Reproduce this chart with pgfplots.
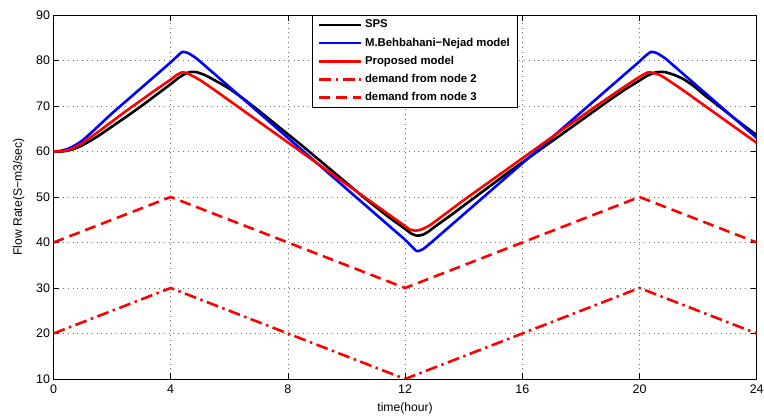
\documentclass[border=0pt]{standalone}
\usepackage{fontspec}
\setmainfont{Liberation Sans}
\usepackage{pgfplots}
\pgfplotsset{compat=1.18}
\begin{document}
\begin{tikzpicture}
\begin{axis}[name=ax, scale only axis, width=703.2bp, height=364bp,
  xmin=0, xmax=24, ymin=10, ymax=90,
  xtick={0,4,...,24}, ytick={10,20,...,90},
  grid=major,
  major grid style={black!55, line width=0.7bp, dash pattern=on 1bp off 3.8bp},
  tick align=inside, tick pos=both, major tick length=6bp,
  every tick/.style={black, line width=0.8bp},
  axis line style={black, line width=0.9bp},
  /pgf/number format/assume math mode=true,
  tick label style={font=\fontsize{12.5}{14}\selectfont},
  xticklabel style={yshift=-2bp},
  xlabel={time(hour)}, ylabel={Flow Rate(S−m3/sec)},
  label style={font=\fontsize{12.2}{14}\selectfont},
  xlabel style={yshift=-3bp},
  ylabel style={yshift=5bp},
  legend cell align=left,
  legend style={at={(rel axis cs:0.3676,1)}, anchor=north west,
    font=\fontsize{11.4}{13}\selectfont\bfseries,
    draw=black, line width=0.9bp, fill=white,
    inner xsep=5.5bp, inner ysep=3.5bp, row sep=6.2bp,
    nodes={inner xsep=2.5bp, inner ysep=0bp, text height=9bp, text depth=3bp}},
  legend image code/.code={\draw[#1] (0bp,0bp) -- (42bp,0bp);},
]
% SPS
\addplot[black, line width=2.6bp, smooth, tension=0.35] coordinates {
(0,60) (0.25,60.0) (0.5,60.2) (0.75,60.7) (1,61.4) (1.5,63.3) (2,65.5) (2.5,67.7) (3,70.0) (3.5,72.4) (4,74.8) (4.25,76.1) (4.5,77.1) (4.7,77.5) (4.9,77.4) (5.2,76.7) (5.6,75.3) (6,73.8) (6.5,71.5) (7,69.0) (7.5,66.4) (8,63.8) (8.5,61.2) (9,58.5) (9.5,55.8) (10,53.1) (10.5,50.4) (11,47.8) (11.5,45.3) (12,43.0) (12.2,42.0) (12.4,41.5) (12.6,41.7) (12.8,42.4) (13,43.4) (13.5,45.7) (14,48.1) (14.5,50.5) (15,52.9) (15.5,55.3) (16,57.6) (16.5,59.9) (17,62.2) (17.5,64.5) (18,66.8) (18.5,69.1) (19,71.4) (19.5,73.6) (20,75.6) (20.25,76.6) (20.5,77.3) (20.7,77.5) (20.9,77.4) (21.2,76.8) (21.5,75.9) (21.85,74.4) (22.2,72.5) (22.5,71.0) (23,68.5) (23.5,66.0) (24,63.6)
};
\addlegendentry{SPS}
% M.Behbahani-Nejad
\addplot[blue, line width=2.6bp, smooth, tension=0.35] coordinates {
(0,60) (0.25,60.15) (0.5,60.6) (0.75,61.4) (1,62.5) (1.25,63.9) (1.5,65.4) (1.75,66.9) (2,68.4) (2.5,71.2) (3,74.0) (3.5,76.8) (4,79.6) (4.2,80.8) (4.4,81.9) (4.6,81.6) (4.85,80.6) (5,79.8) (5.5,77.0) (6,74.2) (6.5,71.4) (7,68.6) (7.5,65.8) (8,63.0) (8.5,60.2) (9,57.4) (9.5,54.6) (10,51.8) (10.5,49.0) (11,46.2) (11.5,43.4) (12,40.6) (12.2,39.3) (12.4,38.1) (12.6,38.5) (12.8,39.5) (13,40.6) (13.5,43.4) (14,46.2) (14.5,49.0) (15,51.8) (15.5,54.6) (16,57.4) (16.5,60.2) (17,63.0) (17.5,65.8) (18,68.6) (18.5,71.4) (19,74.2) (19.5,77.0) (20,79.8) (20.2,81.0) (20.4,81.9) (20.6,81.6) (20.85,80.6) (21,79.8) (21.5,77.0) (22,74.2) (22.5,71.4) (23,68.6) (23.5,65.8) (24,63.0)
};
\addlegendentry{M.Behbahani−Nejad model}
% Proposed
\addplot[red, line width=2.6bp, smooth, tension=0.35] coordinates {
(0,60) (0.25,60.05) (0.5,60.3) (0.75,61.0) (1,61.9) (1.5,64.2) (2,66.6) (2.5,69.0) (3,71.3) (3.5,73.6) (4,75.8) (4.2,76.8) (4.4,77.4) (4.6,77.1) (5,75.7) (5.5,73.5) (6,71.2) (6.5,68.9) (7,66.6) (7.5,64.3) (8,62.0) (8.5,59.7) (9,57.4) (9.5,55.1) (10,52.8) (10.5,50.5) (11,48.2) (11.5,45.9) (12,43.6) (12.15,42.9) (12.35,42.6) (12.55,42.85) (12.8,43.6) (13,44.5) (13.5,46.9) (14,49.3) (14.5,51.6) (15,53.9) (15.5,56.2) (16,58.5) (16.5,60.8) (17,63.1) (17.5,65.4) (18,67.6) (18.5,69.9) (19,72.1) (19.5,74.3) (20,76.4) (20.3,77.4) (20.5,77.2) (20.7,76.8) (21,75.6) (21.5,73.4) (22,71.1) (22.5,68.8) (23,66.5) (23.5,64.2) (24,61.9)
};
\addlegendentry{Proposed model}
% demand node 2
\addplot[red, line width=2.6bp, dash pattern=on 12bp off 4.5bp on 2.5bp off 4.5bp] coordinates {
(0,20) (4,30) (12,10) (20,30) (24,20)
};
\addlegendentry{demand from node 2}
% demand node 3
\addplot[red, line width=2.6bp, dash pattern=on 11bp off 6bp] coordinates {
(0,40) (4,50) (12,30) (20,50) (24,40)
};
\addlegendentry{demand from node 3}
\end{axis}
\pgfresetboundingbox
\path ([xshift=-53.5bp,yshift=-39bp]ax.south west) rectangle ([xshift=7.3bp,yshift=15bp]ax.north east);
\end{tikzpicture}
\end{document}
